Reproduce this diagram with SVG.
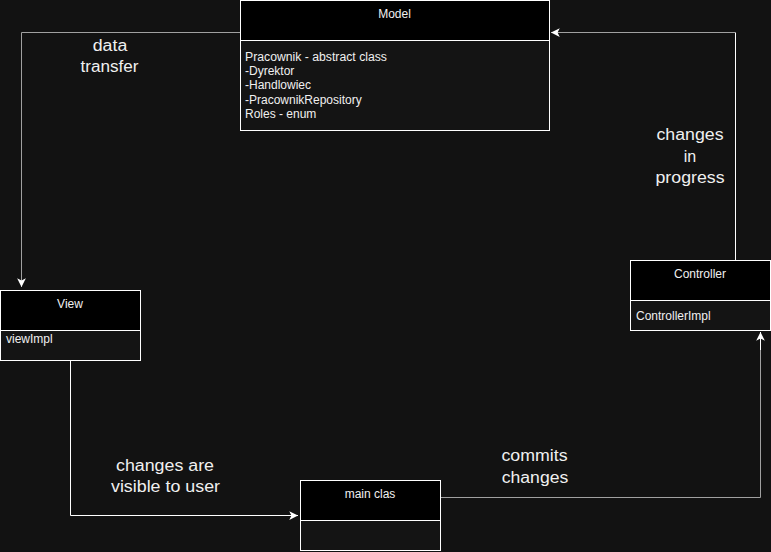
<svg xmlns="http://www.w3.org/2000/svg" width="771" height="552" viewBox="0 0 771 552">
<defs>
<style>
.hdr{fill:#000000;stroke:#ffffff;stroke-width:1}
.body{fill:#141414;stroke:#ffffff;stroke-width:1}
.t{font-family:"Liberation Sans",Arial,sans-serif;font-size:12px;fill:#f0f0f0}
.c{text-anchor:middle}
.lbl{font-family:"Liberation Sans",Arial,sans-serif;font-size:16px;fill:#f0f0f0;text-anchor:middle}
.w{fill:none;stroke:#ffffff;stroke-width:1}
.g{fill:none;stroke:#a0a0a0;stroke-width:1}
</style>
<marker id="arr" markerUnits="userSpaceOnUse" markerWidth="10" markerHeight="10" viewBox="0 0 8 8" refX="7" refY="4" orient="auto">
<path d="M0,0.5 L7,4 L0,7.5 L1.75,4 Z" fill="#ffffff"/>
</marker>
</defs>
<rect width="771" height="552" fill="#121212"/>

<g id="connectors">
<g id="edge-model-view">
<path class="g" d="M240,32.5 H21.5 V287" marker-end="url(#arr)"/>
</g>
<g id="edge-view-main">
<path class="w" d="M70.5,360.5 V515.5 H298" marker-end="url(#arr)"/>
</g>
<g id="edge-main-controller">
<path class="g" d="M440.5,497.5 H760.5 V350"/>
<path class="w" d="M760.5,350 V332" marker-end="url(#arr)"/>
</g>
<g id="edge-controller-model">
<path class="w" d="M735.5,260 V32.5"/>
<path class="g" d="M735.5,32.5 H551" marker-end="url(#arr)"/>
</g>
<text class="lbl" x="110" y="51" textLength="34.5" lengthAdjust="spacingAndGlyphs">data</text>
<text class="lbl" x="109.5" y="72" textLength="58" lengthAdjust="spacingAndGlyphs">transfer</text>
<text class="lbl" x="165" y="471" textLength="98" lengthAdjust="spacingAndGlyphs">changes are</text>
<text class="lbl" x="165.5" y="492" textLength="109" lengthAdjust="spacingAndGlyphs">visible to user</text>
<text class="lbl" x="534.5" y="461" textLength="66" lengthAdjust="spacingAndGlyphs">commits</text>
<text class="lbl" x="535" y="483" textLength="66.5" lengthAdjust="spacingAndGlyphs">changes</text>
<text class="lbl" x="690" y="140" textLength="67" lengthAdjust="spacingAndGlyphs">changes</text>
<text class="lbl" x="690" y="161.5" textLength="12.5" lengthAdjust="spacingAndGlyphs">in</text>
<text class="lbl" x="690" y="183" textLength="69" lengthAdjust="spacingAndGlyphs">progress</text>
</g>

<g id="model">
<rect class="body" x="240.5" y="0.5" width="309" height="130"/>
<rect class="hdr" x="240.5" y="0.5" width="309" height="40"/>
<text class="t c" x="394.5" y="18">Model</text>
<text class="t" x="245" y="61" textLength="142" lengthAdjust="spacingAndGlyphs">Pracownik - abstract class</text>
<text class="t" x="245" y="75">-Dyrektor</text>
<text class="t" x="245" y="89">-Handlowiec</text>
<text class="t" x="245" y="104">-PracownikRepository</text>
<text class="t" x="245" y="118">Roles - enum</text>
</g>

<g id="view">
<rect class="body" x="0.5" y="290.5" width="140" height="70"/>
<rect class="hdr" x="0.5" y="290.5" width="140" height="40"/>
<text class="t c" x="70" y="308">View</text>
<text class="t" x="6" y="343">viewImpl</text>
</g>

<g id="controller">
<rect class="body" x="630.5" y="260.5" width="140" height="70"/>
<rect class="hdr" x="630.5" y="260.5" width="140" height="40"/>
<text class="t c" x="700" y="278">Controller</text>
<text class="t" x="636" y="320">ControllerImpl</text>
</g>

<g id="main">
<rect class="body" x="300.5" y="480.5" width="140" height="70"/>
<rect class="hdr" x="300.5" y="480.5" width="140" height="40"/>
<text class="t c" x="370" y="497.5">main clas</text>
</g>
</svg>
